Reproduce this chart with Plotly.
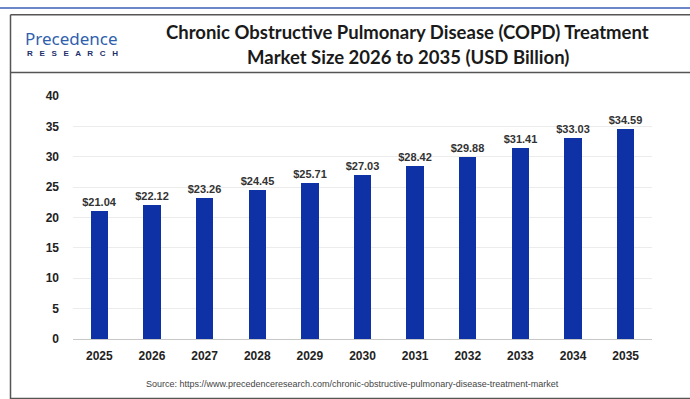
import plotly.graph_objects as go

W, H = 690, 415

years = ["2025", "2026", "2027", "2028", "2029", "2030", "2031", "2032", "2033", "2034", "2035"]
market_size = [21.04, 22.12, 23.26, 24.45, 25.71, 27.03, 28.42, 29.88, 31.41, 33.03, 34.59]
y_ticks = [0, 5, 10, 15, 20, 25, 30, 35, 40]

title_lines = ["Chronic Obstructive Pulmonary Disease (COPD) Treatment",
               "Market Size 2026 to 2035 (USD Billion)"]
source_text = "Source: https://www.precedenceresearch.com/chronic-obstructive-pulmonary-disease-treatment-market"


def px_x(x):
    return x / W


def px_y(y):
    # layout row (in 399-px design space) -> paper fraction
    y_page = (y - 6.2) / 0.963
    return 1 - y_page / H


fig = go.Figure(
    go.Bar(
        x=years,
        y=market_size,
        width=0.33,
        marker=dict(color="#0f31a6", line=dict(width=0)),
        text=[f"${v:.2f}" for v in market_size],
        textposition="outside",
        constraintext="none",
        cliponaxis=False,
        textfont=dict(family="Liberation Sans, Arial", size=11, color="#333333", weight="bold"),
        hoverinfo="x+y",
    )
)

fig.update_layout(
    width=W,
    height=H,
    margin=dict(l=0, r=0, t=0, b=0),
    paper_bgcolor="white",
    plot_bgcolor="white",
    showlegend=False,
    bargap=0,
    xaxis=dict(
        domain=[px_x(73), px_x(652)],
        range=[-0.5, 10.5],
        showgrid=False,
        showline=True,
        linecolor="#c8c8c8",
        linewidth=1,
        ticks="",
        ticklabelstandoff=6,
        tickfont=dict(family="Liberation Sans, Arial", size=12, color="#222222", weight="bold"),
        fixedrange=True,
    ),
    yaxis=dict(
        domain=[px_y(337), px_y(95)],
        range=[0, 40],
        tickvals=y_ticks,
        showgrid=True,
        gridcolor="#ececec",
        gridwidth=1,
        zeroline=False,
        showline=False,
        ticks="",
        ticklabelstandoff=13,
        tickfont=dict(family="Liberation Sans, Arial", size=12, color="#222222", weight="bold"),
        fixedrange=True,
    ),
)

# frame: blue top rule, outer box, separator under heading
line_dark = dict(color="#555555", width=1.5)
fig.add_shape(type="line", xref="paper", yref="paper",
              x0=0, x1=1, y0=1 - 1 / H, y1=1 - 1 / H,
              line=dict(color="#6b87c7", width=2))
fig.add_shape(type="line", xref="paper", yref="paper",
              x0=px_x(10.5), x1=1, y0=px_y(14), y1=px_y(14), line=line_dark)
fig.add_shape(type="line", xref="paper", yref="paper",
              x0=px_x(10.5), x1=px_x(10.5), y0=px_y(14), y1=px_y(397), line=line_dark)
fig.add_shape(type="line", xref="paper", yref="paper",
              x0=px_x(10.5), x1=1, y0=px_y(71.5), y1=px_y(71.5), line=line_dark)
fig.add_shape(type="line", xref="paper", yref="paper",
              x0=px_x(10.5), x1=1, y0=px_y(396.5), y1=px_y(396.5), line=line_dark)

# heading
fig.add_annotation(xref="paper", yref="paper", x=px_x(407), y=px_y(31),
                   text=title_lines[0], showarrow=False, xanchor="center", yanchor="middle",
                   font=dict(family="Lato", size=18.5, color="#1a1a1a", weight="bold"))
fig.add_annotation(xref="paper", yref="paper", x=px_x(408), y=px_y(56),
                   text=title_lines[1], showarrow=False, xanchor="center", yanchor="middle",
                   font=dict(family="Lato", size=18.5, color="#1a1a1a", weight="bold"))

# logo wordmark
fig.add_annotation(xref="paper", yref="paper", x=px_x(23), y=px_y(38),
                   text="Precedence", showarrow=False, xanchor="left", yanchor="middle",
                   font=dict(family="Noto Sans", size=17, color="#2f5fae"))
fig.add_annotation(xref="paper", yref="paper", x=px_x(25), y=px_y(53),
                   text="R   E   S   E   A   R   C   H", showarrow=False, xanchor="left", yanchor="middle",
                   font=dict(family="Liberation Sans, Arial", size=8, color="#1c2f6b", weight="bold"))

# source line
fig.add_annotation(xref="paper", yref="paper", x=px_x(352), y=px_y(382),
                   text=source_text, showarrow=False, xanchor="center", yanchor="middle",
                   font=dict(family="Liberation Sans, Arial", size=9, color="#444444"))

fig.write_html("out.html")
